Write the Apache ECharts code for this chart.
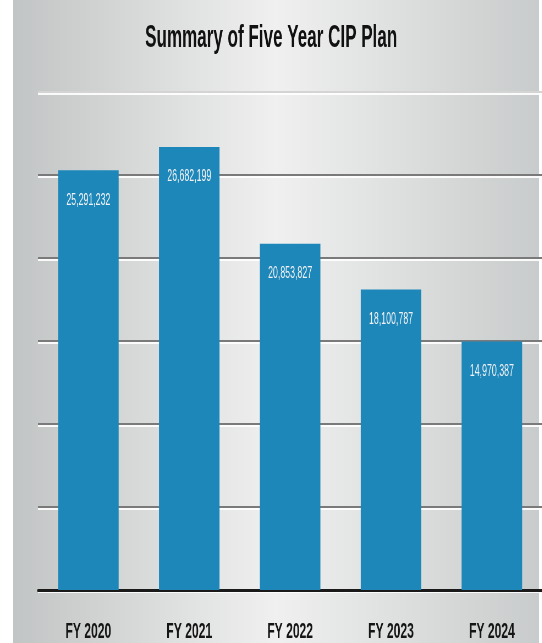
<!DOCTYPE html>
<html>
<head>
<meta charset="utf-8">
<script src="https://cdn.jsdelivr.net/npm/echarts@6/dist/echarts.min.js"></script>
<style>
  html, body { margin: 0; padding: 0; background: #fff; overflow: hidden; }
  /* the source picture is squeezed sideways, so draw wide and squeeze the whole chart */
  #chart { width: 986px; height: 643px; transform: scaleX(0.55); transform-origin: 0 0; }
</style>
</head>
<body>
<div id="chart"></div>
<script>
const categories = ['FY 2020', 'FY 2021', 'FY 2022', 'FY 2023', 'FY 2024'];
const planValues = [25291232, 26682199, 20853827, 18100787, 14970387];
const yTicks = [0, 5000000, 10000000, 15000000, 20000000, 25000000, 30000000];

const font = '"Liberation Sans", Arial, sans-serif';

const chart = echarts.init(document.getElementById('chart'));

chart.setOption({
    animation: false,
    graphic: [
        {
            type: 'rect',
            z: -10,
            silent: true,
            shape: { x: 24, y: 0, width: 956, height: 643 },
            style: {
                fill: new echarts.graphic.LinearGradient(0, 0, 1, 0, [
                    { offset: 0, color: '#c2c5c5' },
                    { offset: 0.5, color: '#f0f0f0' },
                    { offset: 1, color: '#c9cccc' }
                ])
            }
        }
    ],
    title: {
        text: 'Summary of Five Year CIP Plan',
        left: 'center',
        top: 18,
        textStyle: {
            fontFamily: font,
            fontWeight: 'bold',
            fontSize: 31,
            color: '#111'
        }
    },
    grid: {
        left: 69,
        top: 92,
        width: 924,
        height: 498,
        containLabel: false
    },
    xAxis: {
        type: 'category',
        data: categories,
        axisLine: { lineStyle: { color: '#1a1a1a', width: 3 } },
        axisTick: { show: false },
        axisLabel: {
            margin: 31,
            fontFamily: font,
            fontWeight: 'bold',
            fontSize: 22,
            color: '#151515'
        }
    },
    yAxis: {
        type: 'value',
        min: yTicks[0],
        max: yTicks[yTicks.length - 1],
        interval: 5000000,
        axisLine: { show: false },
        axisTick: { show: false },
        axisLabel: { show: false },
        splitLine: {
            lineStyle: {
                color: ['#999', '#7a7a7a', '#7a7a7a', '#7a7a7a', '#7a7a7a', '#7a7a7a', '#d4d4d4'],
                width: 2,
                shadowColor: 'rgba(255,255,255,0.9)',
                shadowOffsetY: 2
            }
        }
    },
    series: [{
        type: 'bar',
        data: planValues,
        barWidth: '60%',
        itemStyle: { color: '#1d87ba' },
        label: {
            show: true,
            position: 'insideTop',
            distance: 22,
            fontFamily: font,
            fontSize: 16,
            color: '#f2f2f2',
            formatter: (params) => params.value.toLocaleString('en-US')
        }
    }]
});
</script>
</body>
</html>
